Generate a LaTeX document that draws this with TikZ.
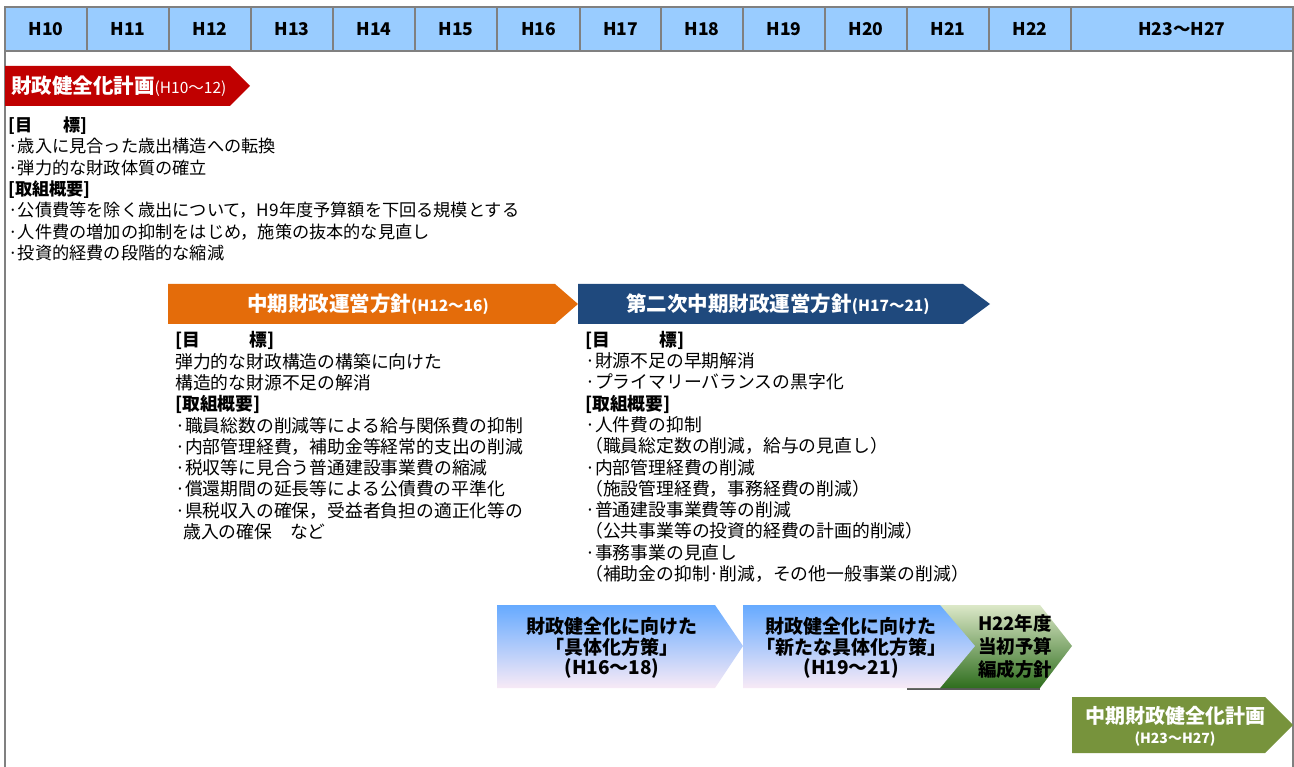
\documentclass[tikz,border=0pt]{standalone}
\usepackage{fontspec}
\setmainfont{Noto Sans CJK JP}
\definecolor{hdrfill}{HTML}{99CCFF}
\definecolor{hdrline}{HTML}{808080}
\definecolor{redc}{HTML}{C00000}
\definecolor{orangec}{HTML}{E46C0A}
\definecolor{bluec}{HTML}{1F497D}
\definecolor{olivec}{HTML}{77933C}
\definecolor{gtop}{HTML}{66AAFF}
\definecolor{gbot}{HTML}{F8EAF6}
\definecolor{grtop}{HTML}{DCE8C8}
\definecolor{grbot}{HTML}{2F6E1E}
\newcommand\subsz{\fontsize{15.5}{17}\selectfont}
\tikzset{
  hcell/.style={draw=hdrline, fill=hdrfill, line width=1.5pt},
  hlabel/.style={font=\fontsize{17.5}{20}\selectfont\bfseries, inner sep=0},
  body/.style={font=\fontsize{17.2}{21.3}\selectfont, align=left, inner sep=0, anchor=base west},
  bodyw/.style={body, font=\fontsize{17.8}{21.3}\selectfont},
  ttl/.style={font=\fontsize{20.5}{22}\selectfont\bfseries, text=white, inner sep=0},
  btxt/.style={font=\fontsize{19}{20.5}\selectfont\bfseries, align=center, inner sep=0},
  frame/.style={draw=hdrline, line width=1.5pt}
}
\begin{document}
\begin{tikzpicture}[x=1pt,y=-1pt]
\useasboundingbox (0,0) rectangle (1294,767);
% frame
\draw[frame] (5,51) -- (5,767);
\draw[frame] (1293,51) -- (1293,767);
% header
\foreach \a/\b/\t [count=\i] in {5/87/H10,87/169/H11,169/251/H12,251/333/H13,333/415/H14,415/497/H15,497/580/H16,580/661/H17,661/743/H18,743/825/H19,825/907/H20,907/989/H21,989/1071/H22,1071/1293/H23〜H27}{
  \draw[hcell] (\a,7) rectangle (\b,51);
  \node[hlabel] (h\i) at ({(\a+\b)/2},29) {\t};
}
% red arrow
\fill[redc] (5,66) -- (230,66) -- (250,86) -- (230,106) -- (5,106) -- cycle;
\node[ttl, anchor=west] (t1) at (11,86) {財政健全化計画{\subsz\mdseries (H10〜12)}};
\node[body] (b1) at (8,259.5) {{\bfseries [目\hspace{1.8em}標]}\\
·歳入に見合った歳出構造への転換\\
·弾力的な財政体質の確立\\
{\bfseries [取組概要]}\\
·公債費等を除く歳出について，H9年度予算額を下回る規模とする\\
·人件費の増加の抑制をはじめ，施策の抜本的な見直し\\
·投資的経費の段階的な縮減};
% orange arrow
\fill[orangec] (168,284) -- (555,284) -- (578,304) -- (555,324) -- (168,324) -- cycle;
\node[ttl] (t2) at (368,304) {中期財政運営方針{\subsz (H12〜16)}};
% blue arrow
\fill[bluec] (578,284) -- (963,284) -- (990,304) -- (963,324) -- (578,324) -- cycle;
\node[ttl] (t3) at (778,304) {第二次中期財政運営方針{\subsz (H17〜21)}};
\node[bodyw] (b2) at (175,538.5) {{\bfseries [目\hspace{2.8em}標]}\\
弾力的な財政構造の構築に向けた\\
構造的な財源不足の解消\\
{\bfseries [取組概要]}\\
·職員総数の削減等による給与関係費の抑制\\
·内部管理経費，補助金等経常的支出の削減\\
·税収等に見合う普通建設事業費の縮減\\
·償還期間の延長等による公債費の平準化\\
·県税収入の確保，受益者負担の適正化等の\\
\hspace{0.45em}歳入の確保　など};
\node[bodyw] (b3) at (585,580.5) {{\bfseries [目\hspace{2.8em}標]}\\
·財源不足の早期解消\\
·プライマリーバランスの黒字化\\
{\bfseries [取組概要]}\\
·人件費の抑制\\
（職員総定数の削減，給与の見直し）\\
·内部管理経費の削減\\
（施設管理経費，事務経費の削減）\\
·普通建設事業費等の削減\\
（公共事業等の投資的経費の計画的削減）\\
·事務事業の見直し\\
（補助金の抑制·削減，その他一般事業の削減）};
% bottom gradient arrows
\draw[hdrline!70!black, line width=1.5pt] (907,689) -- (1040,689);
\shade[top color=grtop, bottom color=grbot] (907,605) -- (1040,605) -- (1072,646) -- (1040,688) -- (907,688) -- cycle;
\shade[top color=gtop, bottom color=gbot] (497,605) -- (715,605) -- (743,646) -- (715,688) -- (497,688) -- cycle;
\shade[top color=gtop, bottom color=gbot] (743,605) -- (940,605) -- (975,646) -- (940,688) -- (743,688) -- cycle;
\node[btxt] (k1) at (612,648) {財政健全化に向けた\\「具体化方策」\\(H16〜18)};
\node[btxt] (k2) at (851,648) {財政健全化に向けた\\「新たな具体化方策」\\(H19〜21)};
\node[btxt, font=\fontsize{18.5}{23}\selectfont\bfseries] (k3) at (1015,647) {H22年度\\当初予算\\編成方針};
% olive arrow
\fill[olivec] (1072,697) -- (1265,697) -- (1293,725) -- (1265,753) -- (1072,753) -- cycle;
\node[ttl, align=center, font=\fontsize{20}{20}\selectfont\bfseries] (t4) at (1175,726) {中期財政健全化計画\\{\fontsize{14}{15}\selectfont (H23〜H27)}};
\end{tikzpicture}
\end{document}
